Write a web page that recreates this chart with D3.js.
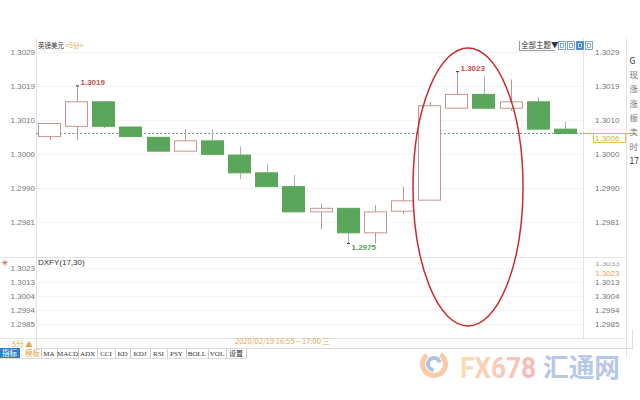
<!DOCTYPE html>
<html><head><meta charset="utf-8">
<script src="https://cdn.jsdelivr.net/npm/d3@7/dist/d3.min.js"></script>
<style>
html,body{margin:0;padding:0;background:#fff;}
svg{display:block;font-family:"Liberation Sans",Arial,sans-serif;}
.cjk{font-family:"Noto Sans CJK SC","Liberation Sans",sans-serif;}
</style></head>
<body><svg id="c" width="640" height="400"></svg>
<script>
// ---- data ----
const times = ["15:20","15:25","15:30","15:35","15:40","15:45","15:50","15:55","16:00","16:05",
               "16:10","16:15","16:20","16:25","16:30","16:35","16:40","16:45","16:50","16:55"];
const opens  = [1.30049,1.30078,1.30147,1.30076,1.30047,1.30008,1.30037,1.29997,1.29947,1.29908,
                1.29837,1.29847,1.29778,1.29839,1.29870,1.30129,1.30168,1.30129,1.30147,1.30070];
const highs  = [1.30087,1.30192,1.30147,1.30076,1.30047,1.30070,1.30070,1.30021,1.29971,1.29941,
                1.29861,1.29847,1.29856,1.29908,1.30147,1.30232,1.30220,1.30210,1.30160,1.30091];
const lows   = [1.30039,1.30039,1.30073,1.30049,1.30008,1.30008,1.29999,1.29929,1.29908,1.29837,
                1.29788,1.29748,1.29748,1.29831,1.29870,1.30129,1.30129,1.30121,1.30070,1.30058];
const closes = [1.30086,1.30147,1.30078,1.30049,1.30008,1.30037,1.29999,1.29947,1.29908,1.29837,
                1.29847,1.29778,1.29837,1.29868,1.30136,1.30168,1.30129,1.30147,1.30070,1.30058];
const lastPrice = 1.30058;
const mainTicks = [1.30287,1.30192,1.30096,1.30000,1.29904,1.29808];
const subTicks  = [1.30228,1.301325,1.30037,1.299415,1.29846];
const subTopLabel = "1.3033";
const subCurrent = "1.3023";
const toolbarItems = ["MA","MACD","ADX","CCI","KD","KDJ","RSI","PSY","BOLL","VOL","设置"];
const sidePanel = ["G","现","涨","涨","振","卖","时","17"];
const symbol = "英镑美元", period = "<5分>";
const dateLabel = "2020/02/19 16:55－17:00 三";

// ---- drawing ----
const svg = d3.select("#c");
const L = 36, R = 583, T = 38, MB = 257, SB = 338, PANEL = 626;
const UP = "#c99393", DN = "#5aa65a", DNW = "#a3b8a3";

const x = d3.scaleBand().domain(d3.range(times.length)).range([L, 579])
  .paddingInner(0.15).paddingOuter(0.075);
const y = d3.scaleLinear().domain([1.2981, 1.3029]).range([221.45, 51.05]);
const y2 = d3.scaleLinear().domain([1.29846, 1.30228]).range([324, 268]);
const fmt = d3.format(".4f");

// frame lines
const fr = svg.append("g").attr("stroke", "#e4e4e4").attr("stroke-width", 1);
fr.append("line").attr("x1", L + .5).attr("x2", L + .5).attr("y1", T).attr("y2", SB);
fr.append("line").attr("x1", R + .5).attr("x2", R + .5).attr("y1", T).attr("y2", SB);
fr.append("line").attr("x1", 0).attr("x2", PANEL).attr("y1", MB + .5).attr("y2", MB + .5);
fr.append("line").attr("x1", 0).attr("x2", PANEL).attr("y1", SB + .5).attr("y2", SB + .5);
fr.append("line").attr("x1", PANEL + .5).attr("x2", PANEL + .5).attr("y1", 38).attr("y2", 358);

// grid
svg.append("g").selectAll("line").data(mainTicks).join("line")
  .attr("x1", L).attr("x2", R).attr("y1", d => Math.round(y(d)) + .5).attr("y2", d => Math.round(y(d)) + .5)
  .attr("stroke", "#f4f4f4");
svg.append("g").selectAll("line").data(subTicks).join("line")
  .attr("x1", L).attr("x2", R).attr("y1", d => Math.round(y2(d)) + .5).attr("y2", d => Math.round(y2(d)) + .5)
  .attr("stroke", "#f4f4f4");

// axes
function styleAxis(g) {
  g.select(".domain").remove();
  g.selectAll(".tick line").remove();
  g.selectAll("text").attr("fill", "#777").attr("font-size", "8px");
}
svg.append("g").attr("transform", `translate(${L},0)`)
  .call(d3.axisLeft(y).tickValues(mainTicks).tickFormat(fmt).tickSize(0).tickPadding(1)).call(styleAxis);
svg.append("g").attr("transform", `translate(${R + 12},0)`)
  .call(d3.axisRight(y).tickValues(mainTicks).tickFormat(fmt).tickSize(0).tickPadding(0)).call(styleAxis);
svg.append("g").attr("transform", `translate(${L},0)`)
  .call(d3.axisLeft(y2).tickValues(subTicks).tickFormat(fmt).tickSize(0).tickPadding(1)).call(styleAxis);
svg.append("g").attr("transform", `translate(${R + 12},0)`)
  .call(d3.axisRight(y2).tickValues(subTicks.slice(1)).tickFormat(fmt).tickSize(0).tickPadding(0)).call(styleAxis);

// lower panel right: clipped label + current
svg.append("defs").append("clipPath").attr("id", "cl").append("rect").attr("x", 590).attr("y", 262).attr("width", 36).attr("height", 20);
svg.append("text").attr("clip-path", "url(#cl)").attr("x", R + 12).attr("y", 266).attr("font-size", "8px").attr("fill", "#999").text(subTopLabel);
svg.append("text").attr("x", R + 12).attr("y", 276).attr("font-size", "8px").attr("fill", "#e6a64a").text(subCurrent);

// current price dashed line
const py = Math.round(y(lastPrice)) + .5;
svg.append("line").attr("x1", L).attr("x2", R).attr("y1", py).attr("y2", py)
  .attr("stroke", "#6d9fb3").attr("stroke-dasharray", "2,2");
svg.append("line").attr("x1", R).attr("x2", 631).attr("y1", py).attr("y2", py).attr("stroke", "#e6a64a");
svg.append("rect").attr("x", 593.5).attr("y", py).attr("width", 32).attr("height", 9)
  .attr("fill", "#fff").attr("stroke", "#e6a64a").attr("stroke-width", 0.8);
svg.append("text").attr("x", 595).attr("y", py + 7.5).attr("font-size", "8px").attr("fill", "#e6a64a").text(fmt(lastPrice));

// candles
const data = times.map((t, i) => ({t, o: opens[i], h: highs[i], l: lows[i], c: closes[i], i}));
const cg = svg.append("g");
const bw = x.bandwidth();
cg.selectAll("line.w").data(data).join("line")
  .attr("x1", d => Math.round(x(d.i) + bw / 2) + .5).attr("x2", d => Math.round(x(d.i) + bw / 2) + .5)
  .attr("y1", d => y(d.h)).attr("y2", d => y(d.l))
  .attr("stroke", d => d.c >= d.o ? UP : DNW).attr("stroke-width", 1);
cg.selectAll("rect").data(data).join("rect")
  .attr("x", d => Math.round(x(d.i)) + .5)
  .attr("width", Math.round(bw) - 1)
  .attr("y", d => y(Math.max(d.o, d.c)))
  .attr("height", d => Math.max(1, Math.abs(y(d.o) - y(d.c))))
  .attr("fill", d => d.c >= d.o ? "#fff" : DN)
  .attr("stroke", d => d.c >= d.o ? UP : DN).attr("stroke-width", 1);

// high/low markers
function marker(i, val, above, color) {
  const cx = Math.round(x(i) + bw / 2) + .5;
  const yy = y(val);
  svg.append("line").attr("x1", cx - 1.5).attr("x2", cx + 1.5).attr("y1", yy).attr("y2", yy).attr("stroke", "#333");
  svg.append("text").attr("x", cx + 3).attr("y", above ? yy - 1 : yy + 7)
    .attr("font-size", "8px").attr("font-weight", "bold").attr("fill", color).text(fmt(val));
}
const hiIdx = [1, 15], loIdx = 11;
hiIdx.forEach(i => marker(i, highs[i], true, "#c0504d"));
marker(loIdx, lows[loIdx], false, "#5a9e5a");

// ellipse
svg.append("ellipse").attr("cx", 468).attr("cy", 187).attr("rx", 55).attr("ry", 139)
  .attr("fill", "none").attr("stroke", "#cc2a2a").attr("stroke-width", 1.5);

// header
svg.append("text").attr("class", "cjk").attr("x", 38).attr("y", 48).attr("font-size", "6.5px").attr("fill", "#333").text(symbol);
svg.append("text").attr("class", "cjk").attr("x", 65).attr("y", 48).attr("font-size", "7px").attr("fill", "#e6a64a").text(period);
svg.append("text").attr("class", "cjk").attr("x", 521).attr("y", 48).attr("font-size", "7.5px").attr("fill", "#333").text("全部主题▼");
svg.append("line").attr("x1", 519).attr("x2", 555).attr("y1", 50.5).attr("y2", 50.5).attr("stroke", "#999");
svg.append("line").attr("x1", 519.5).attr("x2", 519.5).attr("y1", 41).attr("y2", 51).attr("stroke", "#999");
[558, 567, 576, 585].forEach((bx, k) => {
  svg.append("rect").attr("x", bx + .5).attr("y", 41.5).attr("width", 7).attr("height", 8)
    .attr("fill", k === 2 ? "#3b7fd0" : "#fff").attr("stroke", "#5a8fcf").attr("stroke-width", 0.8);
  svg.append("rect").attr("x", bx + 2.5).attr("y", 43.5).attr("width", 3).attr("height", 4)
    .attr("fill", "none").attr("stroke", k === 2 ? "#fff" : "#5a8fcf").attr("stroke-width", 0.7);
});

// side panel
svg.selectAll("text.sp").data(sidePanel).join("text").attr("class", "cjk")
  .attr("x", 629.5).attr("y", (d, i) => i === 0 ? 64 : 78 + (i - 1) * 14.3)
  .attr("font-size", "8.5px").attr("fill", (d, i) => i === 0 || i === 7 ? "#333" : "#777").text(d => d);

// lower panel title
svg.append("text").attr("x", 38).attr("y", 265).attr("font-size", "8px").attr("fill", "#333").text("DXFY(17,30)");
svg.append("text").attr("x", 1).attr("y", 266).attr("font-size", "9px").attr("fill", "#c0504d").text("✳");

// bottom bar
svg.append("text").attr("class", "cjk").attr("x", 12).attr("y", 347).attr("font-size", "7.5px").attr("fill", "#e6a64a").text("5分 ▲");
svg.append("line").attr("x1", 36.5).attr("x2", 36.5).attr("y1", 338).attr("y2", 348).attr("stroke", "#ddd");
svg.append("text").attr("class", "cjk").attr("x", 235).attr("y", 344).attr("font-size", "7.5px").attr("fill", "#e6a64a").text(dateLabel);
svg.append("line").attr("x1", 36).attr("x2", 632).attr("y1", 348.5).attr("y2", 348.5).attr("stroke", "#ddd");
svg.append("line").attr("x1", 632.5).attr("x2", 632.5).attr("y1", 330).attr("y2", 349).attr("stroke", "#ddd");
svg.append("rect").attr("x", 0).attr("y", 348).attr("width", 20).attr("height", 10).attr("fill", "#2f7dd1");
svg.append("text").attr("class", "cjk").attr("x", 2).attr("y", 356).attr("font-size", "7.5px").attr("fill", "#fff").text("指标");
svg.append("text").attr("class", "cjk").attr("x", 25).attr("y", 356).attr("font-size", "7.5px").attr("fill", "#e6a64a").text("模板");
const tbW = [16, 21, 19, 18, 15, 20, 17, 19, 22, 18, 20];
let tx = 41;
const tb = svg.append("g");
toolbarItems.forEach((t, k) => {
  tb.append("line").attr("x1", tx + .5).attr("x2", tx + .5).attr("y1", 349).attr("y2", 358).attr("stroke", "#ccc");
  tb.append("text").attr("class", t === "设置" ? "cjk" : "").attr("x", tx + tbW[k] / 2).attr("y", 356)
    .attr("text-anchor", "middle").attr("font-size", "7px")
    .attr("font-family", t === "设置" ? null : "'Liberation Serif',serif").attr("fill", "#333").text(t);
  tx += tbW[k];
});
tb.append("line").attr("x1", tx + .5).attr("x2", tx + .5).attr("y1", 349).attr("y2", 358).attr("stroke", "#ccc");
svg.append("line").attr("x1", 0).attr("x2", tx).attr("y1", 358.5).attr("y2", 358.5).attr("stroke", "#ddd");

// watermark
const wm = svg.append("g").attr("opacity", 0.55);
const arc = d3.arc();
wm.append("path").attr("transform", "translate(434,364)")
  .attr("d", arc({innerRadius: 9, outerRadius: 14, startAngle: 0.6, endAngle: 5.6})).attr("fill", "#f3a15e");
wm.append("path").attr("transform", "translate(434,364)")
  .attr("d", arc({innerRadius: 4, outerRadius: 8, startAngle: 3.2, endAngle: 7.6})).attr("fill", "#6f93c9");
const grad = svg.append("defs").append("linearGradient").attr("id", "wg").attr("x1", "0").attr("x2", "1");
grad.append("stop").attr("offset", "0").attr("stop-color", "#f8c27a");
grad.append("stop").attr("offset", "1").attr("stop-color", "#ee7f7f");
wm.append("text").attr("x", 460).attr("y", 378).attr("font-size", "30px").attr("font-weight", "bold")
  .attr("font-family", "'Liberation Sans Narrow','Roboto',sans-serif")
  .attr("textLength", 76).attr("lengthAdjust", "spacingAndGlyphs").attr("fill", "url(#wg)").text("FX678");
wm.append("text").attr("class", "cjk").attr("x", 543).attr("y", 377).attr("font-size", "26px").attr("font-weight", "bold")
  .attr("textLength", 77).attr("lengthAdjust", "spacingAndGlyphs").attr("fill", "#7b9bd6").text("汇通网");
</script></body></html>
